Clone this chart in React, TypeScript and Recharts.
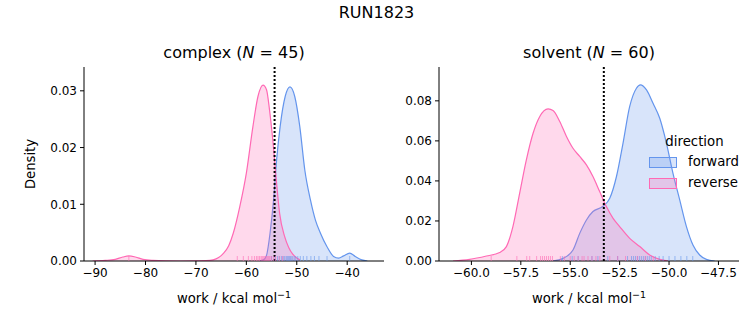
import { ComposedChart, Area, Scatter, XAxis, YAxis, ReferenceLine } from "recharts";

const BLUE = "#6495ED";
const PINK = "#FF69B4";
const FONT = "DejaVu Sans";

// complex leg, KDE curves
const complexForwardX = [-57.4, -56.6, -56.0, -55.3, -54.6, -54.0, -53.3, -52.3, -51.35, -50.4, -49.4, -48.4, -47.3, -46.3, -45.3, -44.0, -42.7, -41.7, -40.7, -39.5, -38.4, -37.1, -36.0];
const complexForwardDensity = [0, 0.0002, 0.001, 0.0049, 0.0108, 0.0178, 0.0237, 0.029, 0.0307, 0.029, 0.0237, 0.016, 0.0108, 0.0072, 0.0049, 0.0025, 0.0008, 0.0005, 0.0009, 0.0014, 0.0008, 0.0002, 0];
const complexReverseX = [-90.5, -88, -86, -84.5, -83.3, -82, -80.5, -78.5, -76, -73, -70, -68, -66.6, -65.5, -64.6, -63.5, -62.6, -61.3, -60, -58.7, -57.7, -56.7, -56.0, -55.4, -54.7, -54.0, -53.4, -52.4, -51.6, -50.8, -49.4];
const complexReverseDensity = [0, 0.0001, 0.0003, 0.0007, 0.0009, 0.0007, 0.0003, 0.0001, 0.00002, 0, 0.00002, 0.00006, 0.0002, 0.0006, 0.0013, 0.0027, 0.0049, 0.0096, 0.0155, 0.0237, 0.029, 0.031, 0.0302, 0.0266, 0.0208, 0.0137, 0.0084, 0.0043, 0.0024, 0.0012, 0.0002];

// solvent leg
const solventForwardX = [-55.87, -55.36, -54.86, -54.52, -54.18, -53.85, -53.36, -53.0, -52.66, -52.33, -51.99, -51.65, -51.45, -51.14, -50.81, -50.47, -50.13, -49.8, -49.46, -49.12, -48.79, -48.45, -48.11, -47.69];
const solventForwardDensity = [0, 0.0013, 0.0055, 0.0138, 0.0205, 0.0247, 0.0272, 0.0313, 0.0422, 0.0588, 0.0772, 0.0863, 0.088, 0.0855, 0.0788, 0.0713, 0.0588, 0.0438, 0.0305, 0.0172, 0.008, 0.003, 0.0008, 0];
const solventReverseX = [-60.93, -60.09, -59.24, -58.57, -58.23, -57.9, -57.56, -57.22, -56.88, -56.54, -56.12, -55.87, -55.53, -55.19, -54.86, -54.52, -54.18, -53.85, -53.51, -53.17, -52.83, -52.5, -51.99, -51.48, -50.98, -50.47, -50.05];
const solventReverseDensity = [0, 0.0008, 0.0025, 0.0042, 0.0072, 0.0172, 0.0338, 0.0505, 0.0638, 0.0722, 0.076, 0.0752, 0.0697, 0.0622, 0.0563, 0.0522, 0.048, 0.0422, 0.0347, 0.0272, 0.0213, 0.0172, 0.0113, 0.0072, 0.003, 0.0008, 0];

// individual work values (rug)
const complexForwardRug = [-55.0, -54.3, -53.8, -53.4, -53.0, -52.7, -52.4, -52.1, -51.9, -51.7, -51.5, -51.3, -51.1, -50.8, -50.5, -50.2, -49.8, -49.3, -48.7, -48.0, -47.2, -46.5, -45.6, -44.0, -39.5];
const complexReverseRug = [-83.3, -61.8, -60.6, -59.6, -58.9, -58.4, -58.0, -57.7, -57.4, -57.1, -56.9, -56.7, -56.5, -56.3, -56.1, -55.9, -55.7, -55.5, -55.3, -55.0, -54.6, -54.2, -53.5, -52.8];
const solventForwardRug = [-55.4, -54.9, -54.6, -53.9, -53.6, -53.1, -52.6, -52.1, -51.9, -51.8, -51.7, -51.6, -51.5, -51.4, -51.3, -51.2, -51.1, -51.0, -50.9, -50.7, -50.5, -50.3, -50.0, -49.7, -49.4, -49.1, -48.8];
const solventReverseRug = [-59.0, -57.7, -57.2, -57.05, -56.7, -56.5, -56.4, -56.3, -56.2, -56.1, -56.0, -55.9, -55.5, -55.3, -55.0, -54.8, -54.6, -54.4, -54.3, -54.1, -53.9, -53.7, -53.5, -53.0, -52.6, -52.2, -51.6, -51.2, -50.8];

const complexXTicks = [-90, -80, -70, -60, -50, -40];
const complexYTicks = [0, 0.01, 0.02, 0.03];
const solventXTicks = [-60, -57.5, -55, -52.5, -50, -47.5];
const solventYTicks = [0, 0.02, 0.04, 0.06, 0.08];

const complexEstimate = -54.4;
const solventEstimate = -53.3;

type Row = { x: number; forward: number | null; reverse: number | null };

function mergeCurves(fx: number[], fy: number[], rx: number[], ry: number[]): Row[] {
  const rows = new Map<number, Row>();
  fx.forEach((x, i) => {
    const r = rows.get(x) ?? { x, forward: null, reverse: null };
    r.forward = fy[i];
    rows.set(x, r);
  });
  rx.forEach((x, i) => {
    const r = rows.get(x) ?? { x, forward: null, reverse: null };
    r.reverse = ry[i];
    rows.set(x, r);
  });
  return [...rows.values()].sort((a, b) => a.x - b.x);
}

const minus = (s: string) => s.replace("-", "\u2212");

const rugShape = (color: string) => (props: any) => (
  <line
    x1={props.cx}
    x2={props.cx}
    y1={props.cy}
    y2={props.cy - 5}
    stroke={color}
    strokeOpacity={0.6}
    strokeWidth={1}
  />
);

type PanelProps = {
  data: Row[];
  forwardRug: number[];
  reverseRug: number[];
  xDomain: [number, number];
  yMax: number;
  xTicks: number[];
  yTicks: number[];
  xDigits: number;
  estimate: number;
  width: number;
  marginLeft: number;
  marginRight: number;
  yAxisWidth: number;
};

function Panel(p: PanelProps) {
  const tickStyle = { fill: "#000", fontSize: 12, fontFamily: FONT };
  return (
    <ComposedChart
      width={p.width}
      height={325}
      data={p.data}
      margin={{ top: 67, right: p.marginRight, bottom: 34, left: p.marginLeft }}
    >
      <XAxis
        type="number"
        dataKey="x"
        domain={p.xDomain}
        allowDataOverflow
        ticks={p.xTicks}
        tickFormatter={(v: number) => minus(v.toFixed(p.xDigits))}
        tick={tickStyle}
        tickSize={4}
        tickMargin={3}
        height={30}
        stroke="#000"
        interval={0}
      />
      <YAxis
        type="number"
        dataKey="y"
        domain={[0, p.yMax]}
        allowDataOverflow
        ticks={p.yTicks}
        tickFormatter={(v: number) => v.toFixed(2)}
        tick={tickStyle}
        tickSize={4}
        tickMargin={3}
        width={p.yAxisWidth}
        stroke="#000"
        interval={0}
      />
      <Area
        type="monotone"
        dataKey="forward"
        stroke={BLUE}
        strokeWidth={1.2}
        fill={BLUE}
        fillOpacity={0.25}
        connectNulls
        dot={false}
        activeDot={false}
        isAnimationActive={false}
      />
      <Area
        type="monotone"
        dataKey="reverse"
        stroke={PINK}
        strokeWidth={1.2}
        fill={PINK}
        fillOpacity={0.25}
        connectNulls
        dot={false}
        activeDot={false}
        isAnimationActive={false}
      />
      <Scatter
        data={p.forwardRug.map((x) => ({ x, y: 0 }))}
        shape={rugShape(BLUE)}
        isAnimationActive={false}
      />
      <Scatter
        data={p.reverseRug.map((x) => ({ x, y: 0 }))}
        shape={rugShape(PINK)}
        isAnimationActive={false}
      />
      <ReferenceLine x={p.estimate} stroke="#000" strokeWidth={2} strokeDasharray="2 2" />
    </ComposedChart>
  );
}

const abs = (left: number, top: number, extra: React.CSSProperties = {}): React.CSSProperties => ({
  position: "absolute",
  left,
  top,
  whiteSpace: "nowrap",
  lineHeight: 1,
  ...extra,
});

function XLabel({ cx }: { cx: number }) {
  return (
    <div style={abs(cx - 100, 292, { width: 200, textAlign: "center", fontSize: 13.2 })}>
      work / kcal mol<sup style={{ fontSize: 9.5, verticalAlign: 0, position: "relative", top: -5 }}>{"\u22121"}</sup>
    </div>
  );
}

export default function App() {
  const complexData = mergeCurves(complexForwardX, complexForwardDensity, complexReverseX, complexReverseDensity);
  const solventData = mergeCurves(solventForwardX, solventForwardDensity, solventReverseX, solventReverseDensity);

  return (
    <div
      style={{
        position: "absolute",
        left: 0,
        top: 0,
        width: 753,
        height: 325,
        background: "#fff",
        fontFamily: FONT,
        color: "#000",
        overflow: "hidden",
      }}
    >
      <div style={abs(0, 0)}>
        <Panel
          data={complexData}
          forwardRug={complexForwardRug}
          reverseRug={complexReverseRug}
          xDomain={[-92.2, -32.7]}
          yMax={0.0342}
          xTicks={complexXTicks}
          yTicks={complexYTicks}
          xDigits={0}
          estimate={complexEstimate}
          width={400}
          marginLeft={34}
          marginRight={16}
          yAxisWidth={50}
        />
      </div>
      <div style={abs(400, 0)}>
        <Panel
          data={solventData}
          forwardRug={solventForwardRug}
          reverseRug={solventReverseRug}
          xDomain={[-61.64, -46.46]}
          yMax={0.0969}
          xTicks={solventXTicks}
          yTicks={solventYTicks}
          xDigits={1}
          estimate={solventEstimate}
          width={353}
          marginLeft={0}
          marginRight={14}
          yAxisWidth={39}
        />
      </div>

      <div style={abs(276.5, 5, { width: 200, textAlign: "center", fontSize: 16 })}>RUN1823</div>
      <div style={abs(134, 45, { width: 200, textAlign: "center", fontSize: 16 })}>
        complex (<i>N</i> = 45)
      </div>
      <div style={abs(489, 45, { width: 200, textAlign: "center", fontSize: 16 })}>
        solvent (<i>N</i> = 60)
      </div>

      <div
        style={abs(-19, 156, {
          width: 100,
          height: 16,
          lineHeight: "16px",
          textAlign: "center",
          fontSize: 13.2,
          transform: "rotate(-90deg)",
        })}
      >
        Density
      </div>
      <XLabel cx={234} />
      <XLabel cx={589} />

      <div style={abs(644.5, 135, { width: 100, textAlign: "center", fontSize: 13.3 })}>direction</div>
      <div
        style={abs(649, 157, {
          width: 28,
          height: 11,
          boxSizing: "border-box",
          border: `1px solid ${BLUE}`,
          background: "rgba(100,149,237,0.25)",
        })}
      />
      <div
        style={abs(649, 178, {
          width: 28,
          height: 11,
          boxSizing: "border-box",
          border: `1px solid ${PINK}`,
          background: "rgba(255,105,180,0.25)",
        })}
      />
      <div style={abs(688, 155, { fontSize: 13.3 })}>forward</div>
      <div style={abs(688, 175.5, { fontSize: 13.3 })}>reverse</div>
    </div>
  );
}
